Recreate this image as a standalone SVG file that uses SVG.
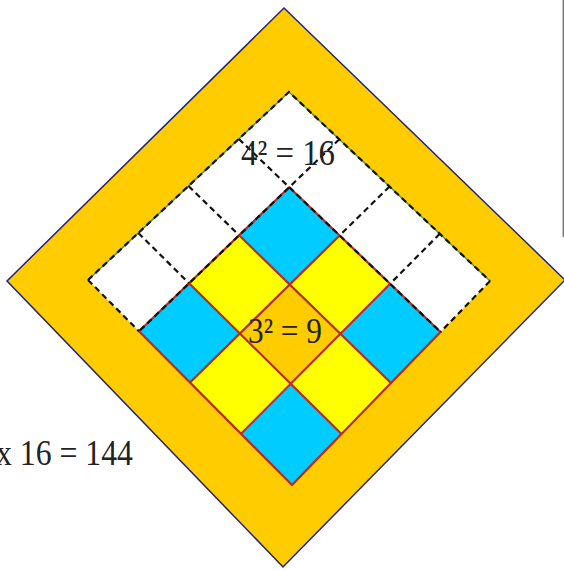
<svg xmlns="http://www.w3.org/2000/svg" width="564" height="571" viewBox="0 0 564 571">
<style>
.red{stroke:#b82a26;stroke-width:2.2;fill:none;stroke-linecap:round}
.dash{stroke:#111;stroke-width:2.2;fill:none;stroke-dasharray:6 4}
.green{stroke:#5c9a3c;stroke-width:1.5;fill:none}
.blue{fill:#00ccff}
.lbl{font-family:"Liberation Serif","Times New Roman",serif;font-size:36px;fill:#222}
</style>
<rect width="564" height="571" fill="#fff"/>
<line x1="563.3" y1="0" x2="563.3" y2="237" stroke="#777" stroke-width="1.5"/>
<g id="outer">
<polygon points="284,8 565,280 283,567 7,281" fill="#ffcc00" stroke="#22227a" stroke-width="1.5"/>
</g>
<g id="inner">
<polygon points="289,92 490,281 292,485 88,280" fill="#fff"/>
</g>
<g id="colored">
<polygon points="289.2,187.3 440.5,332 292,485 139,331.3" fill="#ffff00"/>
<polygon class="blue" points="289.2,187.3 339.6,235.5 289.8,284.5 239.1,235.3"/>
<polygon class="blue" points="189.1,283.3 239.9,333.5 190,382.5 139,331.3"/>
<polygon class="blue" points="390.1,283.8 440.5,332 391,383 340.4,333.8"/>
<polygon class="blue" points="290.7,383.8 341.5,434 292,485 241,433.8"/>
<polygon points="289.8,284.5 340.4,333.8 290.7,383.8 239.9,333.5" fill="#ffcc00"/>
</g>
<g id="connectors">
<path class="green" d="M88,280 L289,92 L490,281"/>
<path class="red" d="M289.2,187.3 L440.5,332 M239.1,235.3 L391,383 M189.1,283.3 L341.5,434 M139,331.3 L292,485 M289.2,187.3 L139,331.3 M339.6,235.5 L190,382.5 M390.1,283.8 L241,433.8 M440.5,332 L292,485"/>
<path class="dash" d="M238.8,139 L440.5,332 M339.3,139.3 L139,331.3 M389.5,186.5 L339.6,235.5 M439.8,233.8 L390.1,283.8 M188.5,186 L239.1,235.3 M138.3,233 L189.1,283.3 M88,280 L289,92 L490,281 M88,280 L139,331.3 M490,281 L440.5,332"/>
</g>
<g id="labels">
<text class="lbl" x="241" y="165" textLength="94" lengthAdjust="spacingAndGlyphs">4² = 16</text>
<text class="lbl" x="248" y="343" textLength="74" lengthAdjust="spacingAndGlyphs">3² = 9</text>
<text class="lbl" x="-4" y="465" textLength="137" lengthAdjust="spacingAndGlyphs">x 16 = 144</text>
</g>
</svg>
